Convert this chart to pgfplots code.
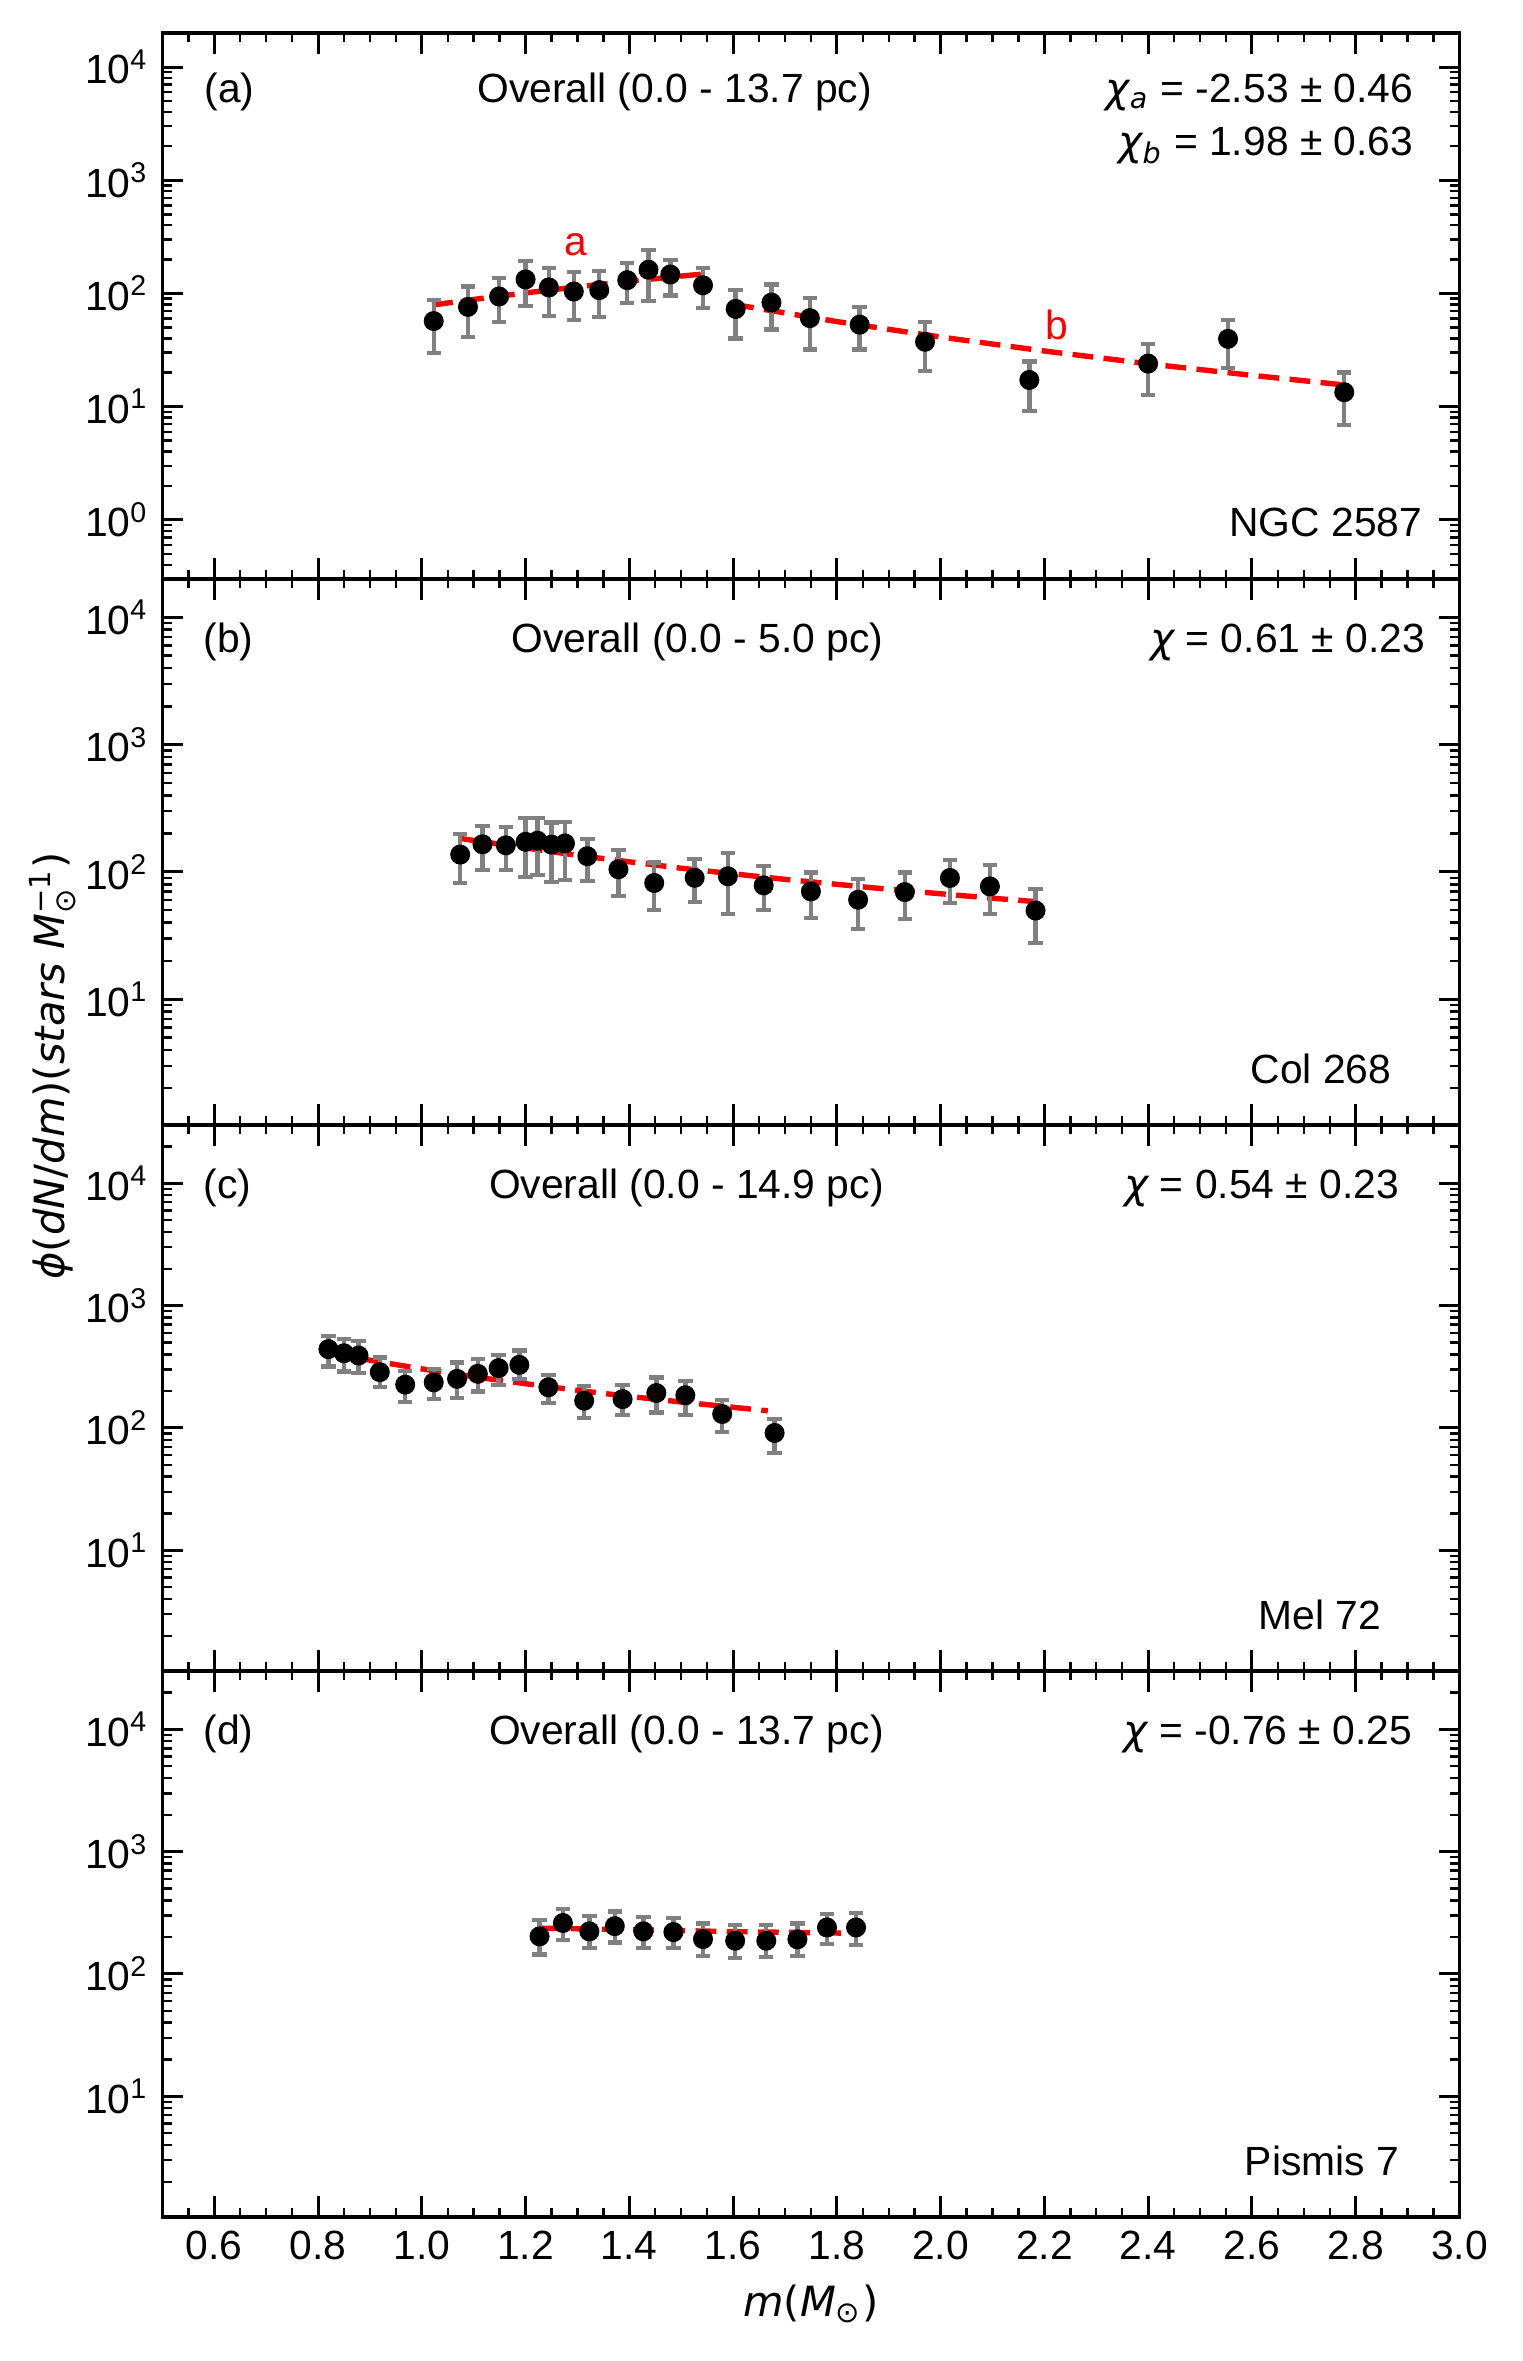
\documentclass[border=0pt]{standalone}
\usepackage{fontspec}
\setmainfont{Liberation Sans}
\newfontfamily\dvs{DejaVu Sans}
\usepackage{amsmath}
\usepackage{pgfplots}
\usepackage{pgfplotstable}
\pgfplotsset{compat=1.18}

\pgfplotstableread{
x y ep em
1.023 57 31 27
1.089 76 39 35
1.149 94 42 38
1.200 133 60 55
1.245 113 54 50
1.293 104 51 46
1.342 107 50 45
1.396 131 54 49
1.437 162 79 76
1.479 147 52 51
1.542 118 49 44
1.605 73 35 33
1.674 83 37 35
1.748 60.5 30.5 28.5
1.844 53 22.5 21
1.970 37.4 18.6 16.7
2.171 17.2 7.8 8.0
2.400 24 12 11.4
2.554 39.7 18.3 17.7
2.778 13.4 6.6 6.5
}\dataA
\pgfplotstableread{
x y
1.02 78.9
1.10 88.5
1.20 101.1
1.30 114.3
1.40 128.1
1.50 142.3
1.55 149.6
}\fitAa
\pgfplotstableread{
x y
1.60 80.2
1.80 56.4
2.00 41.2
2.20 31.0
2.40 23.9
2.60 18.9
2.78 15.5
}\fitAb
\pgfplotstableread{
x y ep em
1.074 137 61 55
1.117 165 66 62
1.162 162 65 59
1.200 172.5 94.5 81.5
1.223 176 91 82
1.250 164 81 80
1.276 167.5 80.5 80.5
1.319 133 48 48
1.379 105 43 40
1.448 82 36.5 32
1.526 90 36 32
1.590 92.5 47.5 45.5
1.659 78.5 32.5 28
1.750 70.4 28.6 26.8
1.841 60.5 27 24.8
1.931 69.5 29.5 26.7
2.018 89.7 34.3 32.7
2.095 77 36 30
2.183 49.8 23.2 22.3
}\dataB
\pgfplotstableread{
x y
1.074 183.3
1.3 135
1.5 107
1.7 87.5
1.9 73.1
2.1 62.2
2.183 58.5
}\fitB
\pgfplotstableread{
x y ep em
0.820 441 128 123
0.850 408 127 118
0.878 391 124 110
0.919 286 91 70
0.968 226 67 63
1.023 236 69 63
1.068 252 91 76
1.108 277 90 78
1.148 308 88 82
1.188 328 102 77
1.244 215 57 55
1.313 167 52 46
1.387 172 51 45
1.452 193 66 59
1.508 185 58 57
1.579 130 40 37.3
1.680 91 28 28.5
}\dataC
\pgfplotstableread{
x y
0.82 413
0.9 358
1.0 304
1.1 262
1.2 230
1.3 203
1.4 181
1.5 163
1.6 147.6
1.667 138
}\fitC
\pgfplotstableread{
x y ep em
1.227 203 72 59
1.272 261 80 72
1.323 223 74 60
1.372 246 78 65
1.427 223 70 60
1.485 220 66 58
1.542 193 66 53
1.604 187 65 52
1.664 187 65 50
1.724 192 67 52
1.781 240 68 64
1.837 240 73 67
}\dataD
\pgfplotstableread{
x y
1.227 237
1.4 230
1.6 222
1.837 215
}\fitD

\definecolor{errgray}{HTML}{808080}
\definecolor{fitred}{HTML}{FF0000}
\newcommand{\txt}{\fontsize{10.2}{12}\selectfont}

\pgfplotsset{
 every axis/.append style={
  width=324.25pt, height=136.5pt, scale only axis,
  xmin=0.5, xmax=3.0,
  xtick={0.6,0.8,1.0,1.2,1.4,1.6,1.8,2.0,2.2,2.4,2.6,2.8,3.0},
  minor xtick={0.55,0.65,0.7,0.75,0.85,0.9,0.95,1.05,1.1,1.15,1.25,1.3,1.35,1.45,1.5,1.55,1.65,1.7,1.75,1.85,1.9,1.95,2.05,2.1,2.15,2.25,2.3,2.35,2.45,2.5,2.55,2.65,2.7,2.75,2.85,2.9,2.95},
  tick align=inside, xtick pos=both, ytick pos=both,
  major tick length=5.2pt, minor tick length=2.3pt,
  axis line style={line width=0.8pt},
  tick label style={font=\txt},
  clip=false,
 },
 every major tick/.append style={black, line width=0.75pt},
 every minor tick/.append style={black, line width=0.6pt},
}

\begin{document}
\begin{tikzpicture}
\useasboundingbox (-40.6pt,-582pt) rectangle (340.05pt,8.25pt);

% (a)
\begin{axis}[ymode=log, name=pa, at={(0pt,0pt)}, anchor=north west,
  ymin=0.3, ymax=20000,
  ytick={1,10,100,1000,10000},
  yticklabels={10\textsuperscript{0},10\textsuperscript{1},10\textsuperscript{2},10\textsuperscript{3},10\textsuperscript{4}},
  minor ytick={0.3,0.4,0.5,0.6,0.7,0.8,0.9,2,3,4,5,6,7,8,9,20,30,40,50,60,70,80,90,200,300,400,500,600,700,800,900,2000,3000,4000,5000,6000,7000,8000,9000,20000},
  xticklabels={}]
\addplot[fitred, line width=1.35pt, dash pattern=on 5.2pt off 2.6pt] table[x=x,y=y] {\fitAa};
\addplot[fitred, line width=1.35pt, dash pattern=on 5.2pt off 2.6pt] table[x=x,y=y] {\fitAb};
\addplot[only marks, mark=none, error bars/.cd, y dir=both, y explicit, error bar style={draw=errgray, line width=1.1pt}, error mark options={rotate=90, mark size=1.8pt, draw=errgray, line width=1.05pt}] table[x=x,y=y,y error plus=ep,y error minus=em] {\dataA};
\addplot[only marks, mark=*, mark size=2.3pt, black] table[x=x,y=y] {\dataA};
\node[anchor=base west, inner sep=0pt, font=\txt] at (rel axis cs:0.032,0.872) {(a)};
\node[anchor=base, inner sep=0pt, font=\txt] at (rel axis cs:0.395,0.872) {Overall (0.0 - 13.7 pc)};
\node[anchor=base east, inner sep=0pt, font=\txt] at (rel axis cs:0.965,0.872) {{\dvs\itshape χ}$_{\text{\dvs\itshape a}}$ = -2.53 ± 0.46};
\node[anchor=base east, inner sep=0pt, font=\txt] at (rel axis cs:0.965,0.775) {{\dvs\itshape χ}$_{\text{\dvs\itshape b}}$ = 1.98 ± 0.63};
\node[anchor=base east, inner sep=0pt, font=\txt] at (rel axis cs:0.972,0.078) {NGC 2587};
\node[font=\txt, text=fitred] at (axis cs:1.297,271) {a};
\node[font=\txt, text=fitred] at (axis cs:2.224,53) {b};
\end{axis}

% (b)
\begin{axis}[ymode=log, name=pb, at={(pa.south west)}, anchor=north west,
  ymin=1.03, ymax=20000,
  ytick={10,100,1000,10000},
  yticklabels={10\textsuperscript{1},10\textsuperscript{2},10\textsuperscript{3},10\textsuperscript{4}},
  minor ytick={2,3,4,5,6,7,8,9,20,30,40,50,60,70,80,90,200,300,400,500,600,700,800,900,2000,3000,4000,5000,6000,7000,8000,9000,20000},
  xticklabels={}]
\addplot[fitred, line width=1.35pt, dash pattern=on 5.2pt off 2.6pt] table[x=x,y=y] {\fitB};
\addplot[only marks, mark=none, error bars/.cd, y dir=both, y explicit, error bar style={draw=errgray, line width=1.1pt}, error mark options={rotate=90, mark size=1.8pt, draw=errgray, line width=1.05pt}] table[x=x,y=y,y error plus=ep,y error minus=em] {\dataB};
\addplot[only marks, mark=*, mark size=2.3pt, black] table[x=x,y=y] {\dataB};
\node[anchor=base west, inner sep=0pt, font=\txt] at (rel axis cs:0.031,0.866) {(b)};
\node[anchor=base, inner sep=0pt, font=\txt] at (rel axis cs:0.4125,0.866) {Overall (0.0 - 5.0 pc)};
\node[anchor=base east, inner sep=0pt, font=\txt] at (rel axis cs:0.974,0.866) {{\dvs\itshape χ} = 0.61 ± 0.23};
\node[anchor=base east, inner sep=0pt, font=\txt] at (rel axis cs:0.948,0.076) {Col 268};
\end{axis}

% (c)
\begin{axis}[ymode=log, name=pc, at={(pb.south west)}, anchor=north west,
  ymin=1.03, ymax=30000,
  ytick={10,100,1000,10000},
  yticklabels={10\textsuperscript{1},10\textsuperscript{2},10\textsuperscript{3},10\textsuperscript{4}},
  minor ytick={2,3,4,5,6,7,8,9,20,30,40,50,60,70,80,90,200,300,400,500,600,700,800,900,2000,3000,4000,5000,6000,7000,8000,9000,20000,30000},
  xticklabels={}]
\addplot[fitred, line width=1.35pt, dash pattern=on 5.2pt off 2.6pt] table[x=x,y=y] {\fitC};
\addplot[only marks, mark=none, error bars/.cd, y dir=both, y explicit, error bar style={draw=errgray, line width=1.1pt}, error mark options={rotate=90, mark size=1.8pt, draw=errgray, line width=1.05pt}] table[x=x,y=y,y error plus=ep,y error minus=em] {\dataC};
\addplot[only marks, mark=*, mark size=2.3pt, black] table[x=x,y=y] {\dataC};
\node[anchor=base west, inner sep=0pt, font=\txt] at (rel axis cs:0.031,0.866) {(c)};
\node[anchor=base, inner sep=0pt, font=\txt] at (rel axis cs:0.404,0.866) {Overall (0.0 - 14.9 pc)};
\node[anchor=base east, inner sep=0pt, font=\txt] at (rel axis cs:0.954,0.866) {{\dvs\itshape χ} = 0.54 ± 0.23};
\node[anchor=base east, inner sep=0pt, font=\txt] at (rel axis cs:0.940,0.076) {Mel 72};
\end{axis}

% (d)
\begin{axis}[ymode=log, name=pd, at={(pc.south west)}, anchor=north west,
  ymin=1.03, ymax=30000,
  ytick={10,100,1000,10000},
  yticklabels={10\textsuperscript{1},10\textsuperscript{2},10\textsuperscript{3},10\textsuperscript{4}},
  minor ytick={2,3,4,5,6,7,8,9,20,30,40,50,60,70,80,90,200,300,400,500,600,700,800,900,2000,3000,4000,5000,6000,7000,8000,9000,20000,30000},
  xticklabel style={/pgf/number format/fixed, /pgf/number format/fixed zerofill, /pgf/number format/precision=1, /pgf/number format/assume math mode=true},
  xlabel={{\dvs\itshape m}{\dvs (}{\dvs\itshape M}$_{\text{\dvs ⊙}}${\dvs )}},
  xlabel style={at={(rel axis cs:0.5,0)}, anchor=center, yshift=-21.75pt, font=\fontsize{10.4}{12}\selectfont}]
\addplot[fitred, line width=1.35pt, dash pattern=on 5.2pt off 2.6pt] table[x=x,y=y] {\fitD};
\addplot[only marks, mark=none, error bars/.cd, y dir=both, y explicit, error bar style={draw=errgray, line width=1.1pt}, error mark options={rotate=90, mark size=1.8pt, draw=errgray, line width=1.05pt}] table[x=x,y=y,y error plus=ep,y error minus=em] {\dataD};
\addplot[only marks, mark=*, mark size=2.3pt, black] table[x=x,y=y] {\dataD};
\node[anchor=base west, inner sep=0pt, font=\txt] at (rel axis cs:0.031,0.866) {(d)};
\node[anchor=base, inner sep=0pt, font=\txt] at (rel axis cs:0.404,0.866) {Overall (0.0 - 13.7 pc)};
\node[anchor=base east, inner sep=0pt, font=\txt] at (rel axis cs:0.964,0.866) {{\dvs\itshape χ} = -0.76 ± 0.25};
\node[anchor=base east, inner sep=0pt, font=\txt] at (rel axis cs:0.954,0.076) {Pismis 7};
\end{axis}

\node[rotate=90, anchor=base, font=\fontsize{10.4}{12}\selectfont] at (-24.4pt,-258.25pt)
 {{\dvs\itshape ϕ}{\dvs (}{\dvs\itshape dN}{\dvs /}{\dvs\itshape dm}{\dvs )(}{\dvs\itshape stars M}$_{\text{\dvs ⊙}}^{\text{\dvs −1}}${\dvs )}};
\end{tikzpicture}
\end{document}
